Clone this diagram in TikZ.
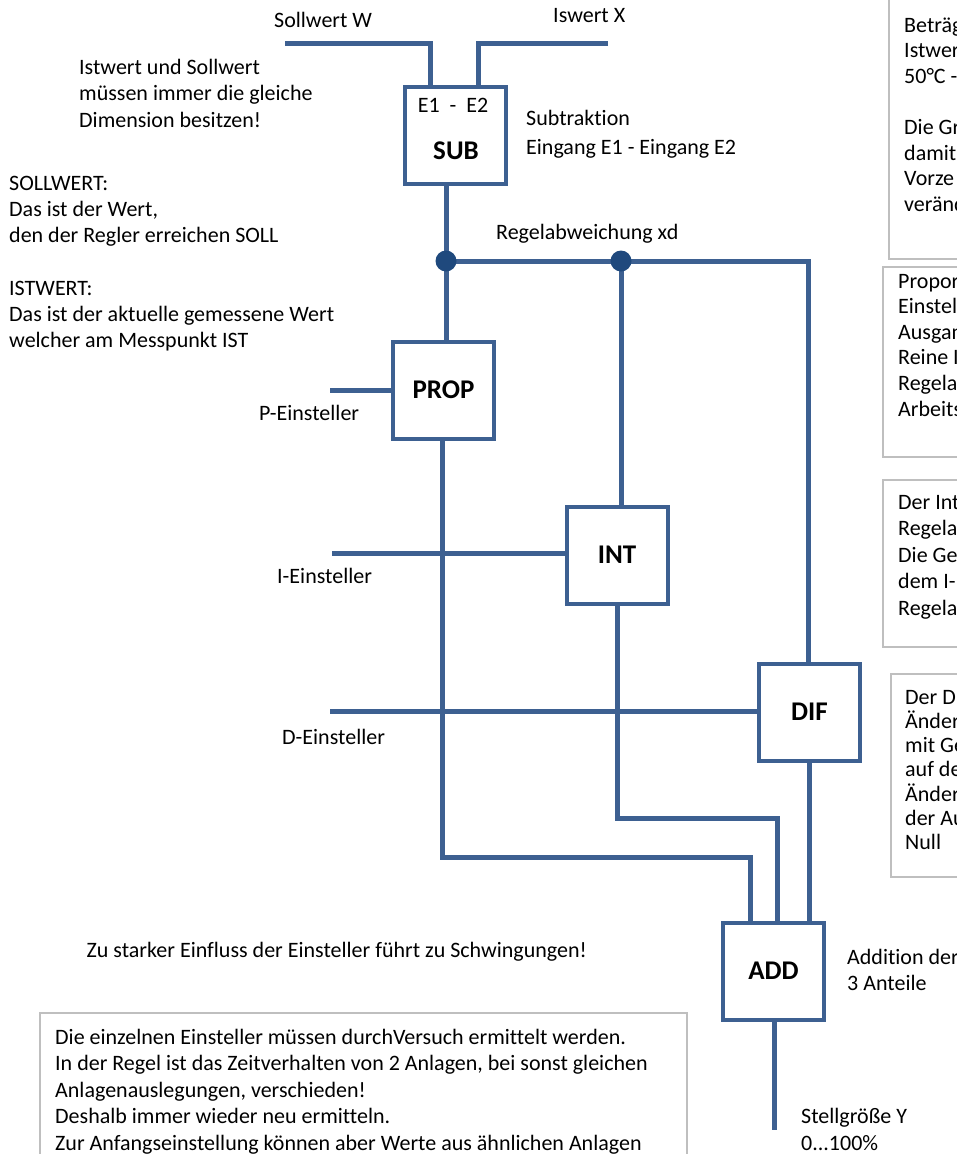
\documentclass[tikz,border=0pt]{standalone}
\usepackage{fontspec}
\setmainfont[Ligatures=NoCommon]{Carlito}
\definecolor{lineblue}{RGB}{61,96,145}
\definecolor{dotblue}{RGB}{31,73,125}
\definecolor{framegray}{RGB}{191,191,191}
\begin{document}
\begin{tikzpicture}[x=1pt,y=-1pt,
  conn/.style={draw=lineblue,line width=5pt},
  blk/.style={draw=lineblue,line width=4pt,fill=white,minimum width=101pt,minimum height=97pt,inner sep=0pt,font=\fontsize{27}{32}\selectfont\bfseries},
  txt/.style={inner sep=0pt,anchor=base west,font=\fontsize{22}{26}\selectfont},
  frame/.style={draw=framegray,line width=1.5pt},
  dot/.style={circle,fill=dotblue,inner sep=0pt,minimum size=21pt}]
\useasboundingbox (0,0) rectangle (956,1154);

% grey note frames
\draw[frame] (889,-5) rectangle (975,259);
\draw[frame] (883,267) rectangle (975,457);
\draw[frame] (883,480) rectangle (975,647);
\draw[frame] (891,674) rectangle (975,877);
\draw[frame] (40,1013) rectangle (687,1175);

% blocks
\node[blk] (sub) at (455,135) {};
\node[blk] (prop) at (443.5,390) {PROP};
\node[blk] (int) at (617,555) {INT};
\node[blk] (dif) at (809.5,712) {DIF};
\node[blk] (add) at (773.5,971) {ADD};

% inputs
\coordinate (wEnd) at (285,43);
\coordinate (wCorner) at (430,43);
\draw[conn] (wEnd) -- (wCorner) -- (wCorner |- sub.north);
\coordinate (xEnd) at (608,43);
\coordinate (xCorner) at (478,43);
\draw[conn] (xEnd) -- (xCorner) -- (xCorner |- sub.north);

% control deviation
\coordinate (j1) at (446,261);
\coordinate (j2) at (621,261);
\coordinate (jR) at (808,261);
\draw[conn] (j1 |- sub.south) -- (j1) -- (j1 |- prop.north);
\draw[conn] (j1) -- (j2) -- (jR) -- (jR |- dif.north);
\draw[conn] (j2) -- (j2 |- int.north);

% setting lines
\coordinate (pIn) at (330,390);
\draw[conn] (pIn) -- (pIn -| prop.west);
\coordinate (iIn) at (332,553);
\draw[conn] (iIn) -- (iIn -| int.west);
\coordinate (dIn) at (330,711);
\draw[conn] (dIn) -- (dIn -| dif.west);

% outputs to ADD
\coordinate (pOut) at (442,857);
\coordinate (pAdd) at (750,857);
\draw[conn] (pOut |- prop.south) -- (pOut) -- (pAdd) -- (pAdd |- add.north);
\coordinate (iOut) at (617,818);
\coordinate (iAdd) at (777,818);
\draw[conn] (iOut |- int.south) -- (iOut) -- (iAdd) -- (iAdd |- add.north);
\coordinate (dOut) at (809,800);
\draw[conn] (dOut |- dif.south) -- (dOut |- add.north);
\coordinate (yEnd) at (774,1130);
\draw[conn] (yEnd |- add.south) -- (yEnd);

% junction dots
\node[dot] (dot1) at (j1) {};
\node[dot] (dot2) at (j2) {};

% SUB labels
\node[txt,anchor=base] (subE) at (453,112) {E1\ \ -\ \ E2};
\node[txt,anchor=base,font=\fontsize{27}{32}\selectfont\bfseries] (subL) at (456,159) {SUB};

% top labels
\node[txt] (lw) at (274,27) {Sollwert W};
\node[txt] (lx) at (553,22) {Iswert X};
\node[txt] (ls1) at (526,125) {Subtraktion};
\node[txt] (ls2) at (526,154) {Eingang E1 - Eingang E2};
\node[txt] (lxd) at (496,239) {Regelabweichung xd};

% left notes
\node[txt] (n1) at (79,74) {Istwert und Sollwert};
\node[txt] (n2) at (79,100.5) {müssen immer die gleiche};
\node[txt] (n3) at (79,127) {Dimension besitzen!};
\node[txt] (n4) at (9,190) {SOLLWERT:};
\node[txt] (n5) at (9,216.3) {Das ist der Wert,};
\node[txt] (n6) at (9,242.6) {den der Regler erreichen SOLL};
\node[txt] (n7) at (9,295) {ISTWERT:};
\node[txt] (n8) at (9,321.3) {Das ist der aktuelle gemessene Wert};
\node[txt] (n9) at (9,347.6) {welcher am Messpunkt IST};

% setting labels
\node[txt] (lp) at (259,420) {P-Einsteller};
\node[txt] (li) at (277,583) {I-Einsteller};
\node[txt] (ld) at (282,744) {D-Einsteller};

% lower labels
\node[txt,anchor=base east] (lzu) at (587,957) {Zu starker Einfluss der Einsteller führt zu Schwingungen!};
\node[txt] (la1) at (847,964) {Addition der};
\node[txt] (la2) at (847,990) {3 Anteile};
\node[txt] (ly1) at (801,1123) {Stellgröße Y};
\node[txt] (ly2) at (801,1150) {0...100\%};

% bottom note
\node[txt] (b1) at (55,1044) {Die einzelnen Einsteller müssen durchVersuch ermittelt werden.};
\node[txt] (b2) at (55,1070.5) {In der Regel ist das Zeitverhalten von 2 Anlagen, bei sonst gleichen};
\node[txt] (b3) at (55,1097) {Anlagenauslegungen, verschieden!};
\node[txt] (b4) at (55,1123.5) {Deshalb immer wieder neu ermitteln.};
\node[txt] (b5) at (55,1150) {Zur Anfangseinstellung können aber Werte aus ähnlichen Anlagen};

% right notes (cut by the page edge)
\node[txt] (r11) at (904,32) {Beträg};
\node[txt] (r12) at (904,57.6) {Istwer};
\node[txt] (r13) at (904,83.2) {50°C -};
\node[txt] (r14) at (904,134.4) {Die Gr};
\node[txt] (r15) at (904,160) {damit};
\node[txt] (r16) at (904,185.6) {Vorze};
\node[txt] (r17) at (904,211.2) {veränd};

\node[txt] (r21) at (898,288) {Propor};
\node[txt] (r22) at (898,313.6) {Einstel};
\node[txt] (r23) at (898,339.2) {Ausgan};
\node[txt] (r24) at (898,364.8) {Reine I};
\node[txt] (r25) at (898,390.4) {Regela};
\node[txt] (r26) at (898,416) {Arbeits};

\node[txt] (r31) at (898,509) {Der Int};
\node[txt] (r32) at (898,535.5) {Regela};
\node[txt] (r33) at (898,562) {Die Ge};
\node[txt] (r34) at (898,588.5) {dem I-};
\node[txt] (r35) at (898,615) {Regela};

\node[txt] (r41) at (905,704) {Der D};
\node[txt] (r42) at (905,728.3) {Änder};
\node[txt] (r43) at (905,752.6) {mit Ge};
\node[txt] (r44) at (905,776.9) {auf de};
\node[txt] (r45) at (905,801.2) {Änder};
\node[txt] (r46) at (905,825.5) {der Au};
\node[txt] (r47) at (905,849.8) {Null};
\end{tikzpicture}
\end{document}
